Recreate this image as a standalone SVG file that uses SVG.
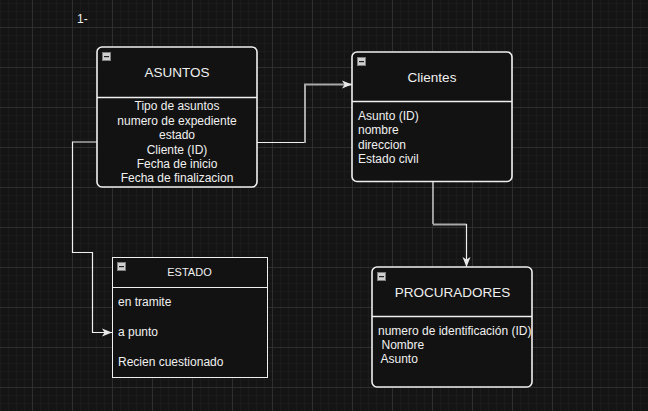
<svg xmlns="http://www.w3.org/2000/svg" width="648" height="411" viewBox="0 0 648 411">
<defs>
<pattern id="minor" x="0" y="3" width="8" height="8" patternUnits="userSpaceOnUse">
<path d="M0,0.5 H8 M0.5,0 V8" stroke="#1b1b1b" stroke-width="1" fill="none"/>
</pattern>
<pattern id="major" x="32" y="27" width="40" height="40" patternUnits="userSpaceOnUse">
<path d="M0,0.5 H40 M0.5,0 V40" stroke="#2e2e2e" stroke-width="1" fill="none"/>
</pattern>
<marker id="arr" viewBox="0 0 10 10" refX="10" refY="5" markerWidth="10" markerHeight="10" markerUnits="userSpaceOnUse" orient="auto">
<path d="M0,1 L10,5 L0,9 L2.5,5 Z" fill="#e8e8e8"/>
</marker>
<g id="minus-icon">
<rect x="0.5" y="0.5" width="8" height="8" fill="#d0d0d0" stroke="#808080" stroke-width="1"/>
<rect x="2" y="4" width="5" height="1.2" fill="#222"/>
</g>
</defs>
<style>
.t{font-family:"Liberation Sans",Arial,sans-serif;fill:#f0f0f0}
.title{font-size:13.5px;text-anchor:middle}
.item{font-size:12px}
.c{text-anchor:middle}
.box{fill:#121212;stroke:#f0f0f0;stroke-width:1.6}
.div{stroke:#f0f0f0;stroke-width:1.6}
.conn{fill:none;stroke:#f0f0f0;stroke-width:1.2}
.conng{fill:none;stroke:#a8a8a8;stroke-width:2}
</style>
<rect width="648" height="411" fill="#141414"/>
<rect width="648" height="411" fill="url(#minor)"/>
<rect width="648" height="411" fill="url(#major)"/>

<text class="t item" x="77" y="23">1-</text>

<g id="connectors">
<path class="conn" d="M97,142 H72.5 V252.5 H92.5 V332.5 H112" marker-end="url(#arr)"/>
<path class="conn" d="M257,142.5 H305"/>
<path class="conng" d="M305,143 V84.5 H352" marker-end="url(#arr)"/>
<path class="conn" d="M433,182 V224"/>
<path class="conng" d="M433,224.5 H466.5"/>
<path class="conn" d="M466.5,224 V267" marker-end="url(#arr)"/>
</g>

<g id="asuntos">
<rect class="box" x="97" y="47" width="160" height="140" rx="5"/>
<line class="div" x1="97" y1="97.5" x2="257" y2="97.5"/>
<use href="#minus-icon" x="102" y="52"/>
<text class="t title" x="177" y="77">ASUNTOS</text>
<text class="t item c" x="177" y="110">Tipo de asuntos</text>
<text class="t item c" x="177" y="124.5">numero de expediente</text>
<text class="t item c" x="177" y="139">estado</text>
<text class="t item c" x="177" y="153.5">Cliente (ID)</text>
<text class="t item c" x="177" y="167.5">Fecha de inicio</text>
<text class="t item c" x="177" y="182">Fecha de finalizacion</text>
</g>

<g id="clientes">
<rect class="box" x="352" y="52" width="160" height="129.5" rx="5"/>
<line class="div" x1="352" y1="101.5" x2="512" y2="101.5"/>
<use href="#minus-icon" x="357" y="57"/>
<text class="t title" x="432" y="82">Clientes</text>
<text class="t item" x="358" y="120">Asunto (ID)</text>
<text class="t item" x="358" y="134">nombre</text>
<text class="t item" x="358" y="148.5">direccion</text>
<text class="t item" x="358" y="162.5">Estado civil</text>
</g>

<g id="estado">
<rect x="112.5" y="257.5" width="155" height="120" fill="#121212" stroke="#f0f0f0" stroke-width="1"/>
<line x1="112" y1="287.5" x2="268" y2="287.5" stroke="#f0f0f0" stroke-width="1"/>
<use href="#minus-icon" x="117" y="262"/>
<text class="t" x="189.5" y="275.5" font-size="11" text-anchor="middle">ESTADO</text>
<text class="t item" x="118" y="305.5">en tramite</text>
<text class="t item" x="118" y="335.5">a punto</text>
<text class="t item" x="118" y="365.5">Recien cuestionado</text>
</g>

<g id="procuradores">
<rect class="box" x="372" y="267" width="160" height="120" rx="5"/>
<line class="div" x1="372" y1="316.5" x2="532" y2="316.5"/>
<use href="#minus-icon" x="377" y="272"/>
<text class="t title" x="452.5" y="297">PROCURADORES</text>
<text class="t item" x="378" y="335">numero de identificación (ID)</text>
<text class="t item" x="381.5" y="348.5">Nombre</text>
<text class="t item" x="380.5" y="363">Asunto</text>
</g>
</svg>
